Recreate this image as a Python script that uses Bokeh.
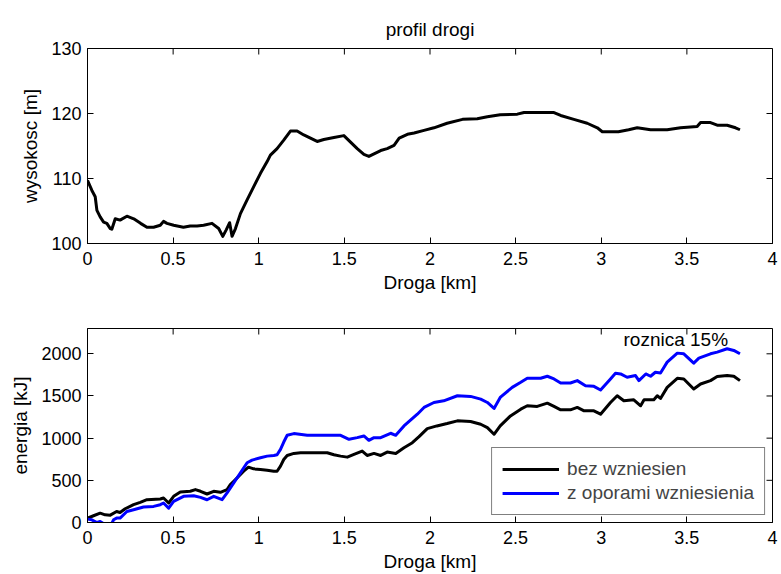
from bokeh.plotting import figure
from bokeh.layouts import column
from bokeh.models import Range1d, FixedTicker, Label, Legend, LegendItem
from bokeh.embed import file_html
from bokeh.resources import INLINE

# ---- data: road elevation profile ----
prof_km = [0, 0.025, 0.045, 0.055, 0.074, 0.094, 0.113, 0.133, 0.142, 0.162, 0.19, 0.23,
           0.27, 0.31, 0.347, 0.386, 0.425, 0.444, 0.464, 0.503, 0.56, 0.6, 0.64, 0.678,
           0.727, 0.766, 0.79, 0.81, 0.83, 0.844, 0.864, 0.893, 0.932, 0.97, 1.01, 1.049,
           1.068, 1.107, 1.146, 1.185, 1.224, 1.263, 1.302, 1.341, 1.38, 1.439, 1.497,
           1.536, 1.575, 1.614, 1.643, 1.673, 1.712, 1.75, 1.79, 1.82, 1.868, 1.907,
           1.965, 2.023, 2.10, 2.19, 2.276, 2.335, 2.41, 2.51, 2.549, 2.724, 2.763, 2.84,
           2.918, 2.977, 3.006, 3.10, 3.16, 3.21, 3.288, 3.385, 3.463, 3.56, 3.58, 3.638,
           3.677, 3.735, 3.784, 3.81]
prof_m = [109.7, 108.2, 107.2, 105.1, 104.1, 103.3, 103.1, 102.3, 102.2, 103.8, 103.6, 104.2,
          103.8, 103.1, 102.5, 102.5, 102.8, 103.4, 103.1, 102.8, 102.5, 102.7, 102.7, 102.8,
          103.1, 102.3, 101.1, 102.1, 103.2, 101.1, 102.3, 104.6, 106.7, 108.7, 110.8, 112.6,
          113.6, 114.6, 115.9, 117.3, 117.3, 116.7, 116.2, 115.7, 116.0, 116.3, 116.6,
          115.6, 114.6, 113.7, 113.4, 113.8, 114.3, 114.6, 115.1, 116.2, 116.8, 117.0,
          117.4, 117.8, 118.5, 119.1, 119.2, 119.5, 119.8, 119.9, 120.15, 120.15, 119.7, 119.1,
          118.5, 117.8, 117.2, 117.2, 117.5, 117.8, 117.5, 117.5, 117.8, 118.0, 118.6, 118.6,
          118.2, 118.2, 117.8, 117.5]

# ---- data: energy without elevation ----
e1_km = [0, 0.035, 0.074, 0.103, 0.133, 0.17, 0.19, 0.22, 0.269, 0.308, 0.347, 0.425, 0.444,
         0.474, 0.503, 0.542, 0.60, 0.63, 0.66, 0.698, 0.737, 0.776, 0.815, 0.834, 0.854,
         0.883, 0.912, 0.94, 0.97, 1.01, 1.049, 1.088, 1.107, 1.127, 1.146, 1.166, 1.205,
         1.244, 1.40, 1.439, 1.478, 1.517, 1.556, 1.604, 1.633, 1.673, 1.712, 1.75, 1.80,
         1.848, 1.897, 1.936, 1.984, 2.04, 2.10, 2.16, 2.237, 2.296, 2.335, 2.374, 2.41,
         2.47, 2.53, 2.568, 2.626, 2.685, 2.724, 2.763, 2.82, 2.86, 2.90, 2.957, 2.996,
         3.054, 3.093, 3.132, 3.19, 3.23, 3.25, 3.307, 3.327, 3.346, 3.385, 3.444, 3.482,
         3.54, 3.58, 3.638, 3.677, 3.735, 3.774, 3.81]
e1_kj = [52, 80, 111, 91, 87, 131, 119, 163, 211, 239, 270, 278, 290,
         231, 310, 362, 370, 390, 370, 338, 370, 358, 390, 449, 489,
         549, 608, 656, 636, 628, 620, 608, 608, 668, 747, 795, 819,
         827, 827, 803, 787, 775, 807, 847, 795, 819, 795, 835, 819,
         887, 946, 1018, 1113, 1145, 1173, 1205, 1197, 1165, 1125, 1046, 1145,
         1264, 1344, 1384, 1376, 1415, 1376, 1336, 1336, 1364, 1324, 1324, 1284,
         1423, 1503, 1443, 1455, 1384, 1455, 1455, 1503, 1471, 1602, 1710, 1702,
         1582, 1642, 1682, 1730, 1742, 1734, 1682]

# ---- data: energy with elevation resistance ----
e2_km = [0, 0.025, 0.055, 0.074, 0.10, 0.133, 0.152, 0.17, 0.19, 0.23, 0.269, 0.327, 0.386,
         0.425, 0.444, 0.474, 0.503, 0.561, 0.62, 0.66, 0.698, 0.737, 0.786, 0.815, 0.854,
         0.893, 0.932, 0.961, 1.01, 1.049, 1.088, 1.107, 1.127, 1.146, 1.166, 1.205, 1.283,
         1.478, 1.527, 1.575, 1.614, 1.643, 1.673, 1.712, 1.77, 1.80, 1.848, 1.926, 1.965,
         2.023, 2.08, 2.16, 2.237, 2.296, 2.335, 2.374, 2.41, 2.48, 2.53, 2.568, 2.646,
         2.685, 2.724, 2.763, 2.82, 2.86, 2.908, 2.957, 2.996, 3.054, 3.083, 3.113, 3.151,
         3.20, 3.22, 3.26, 3.288, 3.316, 3.346, 3.385, 3.444, 3.482, 3.54, 3.57, 3.638,
         3.677, 3.735, 3.774, 3.81]
e2_kj = [40, 32, 0, 12, -20, -48, 32, 52, 52, 131, 151, 183, 191,
         211, 231, 171, 250, 310, 318, 298, 270, 310, 270, 350, 469,
         588, 708, 740, 767, 787, 795, 803, 867, 954, 1034, 1054, 1034,
         1034, 986, 1006, 1026, 974, 1006, 1006, 1058, 1034, 1145, 1284, 1364,
         1423, 1443, 1503, 1495, 1463, 1423, 1352, 1483, 1602, 1662, 1710, 1710,
         1734, 1702, 1654, 1654, 1682, 1622, 1614, 1571, 1702, 1769, 1761, 1722,
         1742, 1682, 1761, 1734, 1781, 1773, 1901, 2008, 2000, 1889, 1948, 2000,
         2020, 2060, 2040, 2000]

x_ticks = [0, 0.5, 1, 1.5, 2, 2.5, 3, 3.5, 4]
top_y_ticks = [100, 110, 120, 130]
bot_y_ticks = [0, 500, 1000, 1500, 2000]

FONT = "Liberation Sans"
FS_TICK = "18px"
FS = "19px"
FRAME_W = 685
TICK_LEN = 6


def style(p, yticks, x0, x1, y0, y1, frame_h):
    p.outline_line_color = "black"
    p.outline_line_width = 1
    p.xgrid.visible = False
    p.ygrid.visible = False
    for ax, ticks in ((p.xaxis[0], x_ticks), (p.yaxis[0], yticks)):
        ax.ticker = FixedTicker(ticks=ticks)
        ax.major_tick_in = TICK_LEN
        ax.major_tick_out = 0
        ax.minor_tick_line_color = None
        ax.axis_line_color = "black"
        ax.major_tick_line_color = "black"
        ax.major_label_text_font = FONT
        ax.major_label_text_font_size = FS_TICK
        ax.major_label_text_color = "black"
        ax.axis_label_text_font = FONT
        ax.axis_label_text_font_size = FS
        ax.axis_label_text_font_style = "normal"
        ax.axis_label_text_color = "black"
    p.xaxis[0].major_label_standoff = 8
    p.xaxis[0].axis_label_standoff = 4
    p.yaxis[0].major_label_standoff = 6
    p.yaxis[0].axis_label_standoff = 7
    # box ticks on the top and right edges (matching the axis tickers)
    dy = TICK_LEN * (y1 - y0) / frame_h
    dx = TICK_LEN * (x1 - x0) / FRAME_W
    p.segment(x0=x_ticks, x1=x_ticks, y0=[y1] * len(x_ticks), y1=[y1 - dy] * len(x_ticks),
              line_color="black", line_width=1)
    p.segment(x0=[x1] * len(yticks), x1=[x1 - dx] * len(yticks), y0=yticks, y1=yticks,
              line_color="black", line_width=1)


# ---- top figure ----
p1 = figure(width=781, height=300, frame_width=FRAME_W, frame_height=195,
            x_range=Range1d(0, 4), y_range=Range1d(100, 130),
            output_backend="svg", toolbar_location=None,
            min_border_left=87, min_border_right=9, min_border_top=48, min_border_bottom=57,
            x_axis_label="Droga [km]", y_axis_label="wysokosc [m]")
p1.title.text = "profil drogi"
p1.title.align = "center"
p1.title.text_font = FONT
p1.title.text_font_size = FS
p1.title.text_font_style = "normal"
p1.title.text_color = "black"
p1.title.standoff = 17
style(p1, top_y_ticks, 0, 4, 100, 130, 195)
p1.line(prof_km, prof_m, line_color="black", line_width=3, line_join="round")

# ---- bottom figure ----
p2 = figure(width=781, height=274, frame_width=FRAME_W, frame_height=194,
            x_range=Range1d(0, 4), y_range=Range1d(0, 2300),
            output_backend="svg", toolbar_location=None,
            min_border_left=87, min_border_right=9, min_border_top=28, min_border_bottom=52,
            x_axis_label="Droga [km]", y_axis_label="energia [kJ]")
style(p2, bot_y_ticks, 0, 4, 0, 2300, 194)
r1 = p2.line(e1_km, e1_kj, line_color="black", line_width=3, line_join="round")
r2 = p2.line(e2_km, e2_kj, line_color="#0000ff", line_width=3, line_join="round")

p2.add_layout(Label(x=3.13, y=2170, text="roznica 15%", text_font=FONT,
                    text_font_size=FS, text_baseline="middle", text_align="left",
                    text_color="black"))

legend = Legend(items=[LegendItem(label="bez wzniesien", renderers=[r1]),
                       LegendItem(label="z oporami wzniesienia", renderers=[r2])],
                location="bottom_right", margin=7, padding=10, spacing=2,
                label_height=20, glyph_height=20, glyph_width=57, label_standoff=8,
                label_text_font=FONT, label_text_font_size=FS,
                border_line_color="black", border_line_width=1,
                background_fill_color="white", background_fill_alpha=1)
p2.add_layout(legend, "center")

layout = column(p1, p2, spacing=0)
open("out.html", "w").write(file_html(layout, INLINE))
